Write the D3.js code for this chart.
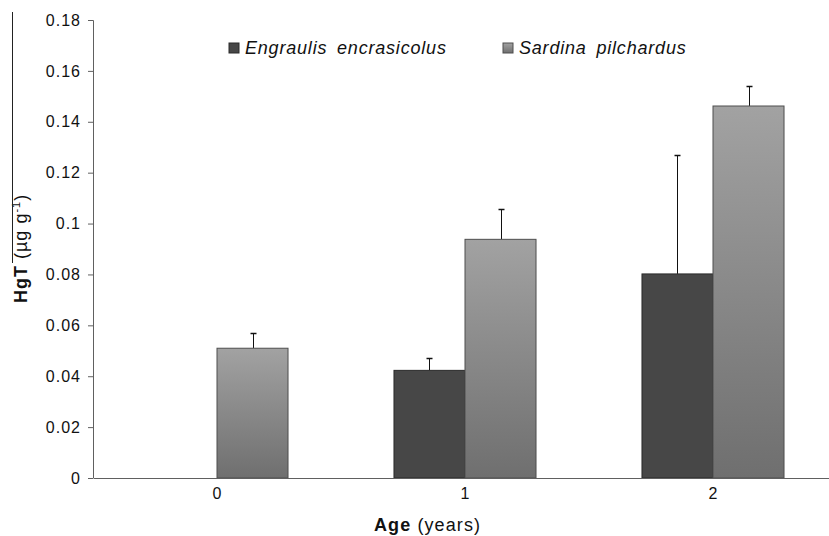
<!DOCTYPE html>
<html>
<head>
<meta charset="utf-8">
<script src="https://cdn.jsdelivr.net/npm/d3@7"></script>
<style>
  html, body { margin: 0; padding: 0; background: #fff; }
  svg { display: block; font-family: "Liberation Sans", Arial, sans-serif; }
</style>
</head>
<body>
<svg id="chart" width="829" height="536"></svg>
<script>
// Mean total mercury (HgT) by age class, with upper standard-deviation bars
const ages = ["0", "1", "2"];
const seriesNames = ["Engraulis encrasicolus", "Sardina pilchardus"];
const engraulisMean = [null, 0.0423, 0.0802];
const engraulisSD   = [null, 0.0047, 0.0467];
const sardinaMean   = [0.0510, 0.0938, 0.1462];
const sardinaSD     = [0.0059, 0.0119, 0.0080];
const yTicks = [0, 0.02, 0.04, 0.06, 0.08, 0.1, 0.12, 0.14, 0.16, 0.18];

const svg = d3.select("#chart");
const plotLeft = 93, plotRight = 837, plotTop = 20, plotBottom = 478;

const x = d3.scaleBand().domain(ages).range([plotLeft, plotRight]).padding(0);
const xs = d3.scaleBand().domain(seriesNames).range([0, x.bandwidth()])
  .paddingInner(0).paddingOuter(0.746);
const y = d3.scaleLinear().domain([0, 0.18]).range([plotBottom, plotTop]);

// vertical shading for the Sardina bars
const defs = svg.append("defs");
const grad = defs.append("linearGradient").attr("id", "sardGrad")
  .attr("x1", 0).attr("y1", 0).attr("x2", 0).attr("y2", 1);
grad.append("stop").attr("offset", "0%").attr("stop-color", "#a2a2a2");
grad.append("stop").attr("offset", "100%").attr("stop-color", "#6f6f6f");

const fills = {"Engraulis encrasicolus": "#474747", "Sardina pilchardus": "url(#sardGrad)"};
const strokes = {"Engraulis encrasicolus": "#2a2a2a", "Sardina pilchardus": "#4e4e4e"};

const rows = [];
ages.forEach((a, i) => {
  rows.push({age: a, s: seriesNames[0], v: engraulisMean[i], e: engraulisSD[i]});
  rows.push({age: a, s: seriesNames[1], v: sardinaMean[i], e: sardinaSD[i]});
});
const data = rows.filter(d => d.v != null);

function tickStyle(sel) {
  sel.attr("fill", "#111").style("font-size", "16px").style("letter-spacing", "1px")
    .attr("font-family", "Liberation Sans, Arial, sans-serif");
}

// y axis
const yAxis = d3.axisLeft(y).tickValues(yTicks).tickSize(5).tickPadding(7)
  .tickFormat(d => d === 0 ? "0" : String(+d.toFixed(2)));
const gy = svg.append("g").attr("transform", `translate(${plotLeft},0)`).call(yAxis);
gy.select(".domain").attr("stroke", "#606060").attr("d", `M-5,${plotTop}.5H0.5V${plotBottom}`);
gy.selectAll(".tick line").attr("stroke", "#606060");
gy.selectAll(".tick text").call(tickStyle);

// error bars (upper half only)
const err = svg.append("g").attr("stroke", "#111").attr("stroke-width", 1);
data.forEach(d => {
  const cx = Math.round(x(d.age) + xs(d.s) + xs.bandwidth() / 2) + 0.5;
  const yTop = Math.round(y(d.v + d.e)) + 0.5;
  err.append("line").attr("x1", cx).attr("x2", cx).attr("y1", y(d.v)).attr("y2", yTop);
  err.append("line").attr("x1", cx - 3).attr("x2", cx + 3).attr("y1", yTop).attr("y2", yTop)
    .attr("stroke-width", 1.5);
});

// bars
svg.append("g").selectAll("rect").data(data).join("rect")
  .attr("x", d => x(d.age) + xs(d.s))
  .attr("y", d => y(d.v))
  .attr("width", xs.bandwidth())
  .attr("height", d => y(0) - y(d.v))
  .attr("fill", d => fills[d.s])
  .attr("stroke", d => strokes[d.s])
  .attr("stroke-width", 1);

// x axis
const xAxis = d3.axisBottom(x).tickSize(0).tickPadding(10);
const gx = svg.append("g").attr("transform", `translate(0,${plotBottom})`).call(xAxis);
gx.select(".domain").attr("stroke", "#606060");
gx.selectAll(".tick text").call(tickStyle).attr("dx", "0.5");

// axis titles
const xt = svg.append("text").attr("x", 374).attr("y", 531).attr("fill", "#111")
  .style("font-size", "18px").style("letter-spacing", "1.1px");
xt.append("tspan").attr("font-weight", "bold").text("Age");
xt.append("tspan").text(" (years)");

const yt = svg.append("text").attr("transform", "translate(27,303) rotate(-90)")
  .attr("fill", "#111").style("font-size", "18px").style("letter-spacing", "1px");
yt.append("tspan").attr("font-weight", "bold").text("HgT");
yt.append("tspan").text(" (µg g");
yt.append("tspan").attr("dy", -7).style("font-size", "11px").text("-1");
yt.append("tspan").attr("dy", 7).text(")");

svg.append("line").attr("x1", 12.5).attr("x2", 12.5).attr("y1", 12).attr("y2", 263)
  .attr("stroke", "#222").attr("stroke-width", 1);

// legend
const legend = svg.append("g");
const legendX = [229, 503];
seriesNames.forEach((s, i) => {
  legend.append("rect").attr("x", legendX[i]).attr("y", 43).attr("width", 10).attr("height", 10)
    .attr("fill", fills[s]).attr("stroke", strokes[s]);
  legend.append("text").attr("x", legendX[i] + 16).attr("y", 54)
    .attr("font-style", "italic").attr("fill", "#111").style("font-size", "18px")
    .style("letter-spacing", "0.8px").style("word-spacing", "4px").text(s);
});
</script>
</body>
</html>
